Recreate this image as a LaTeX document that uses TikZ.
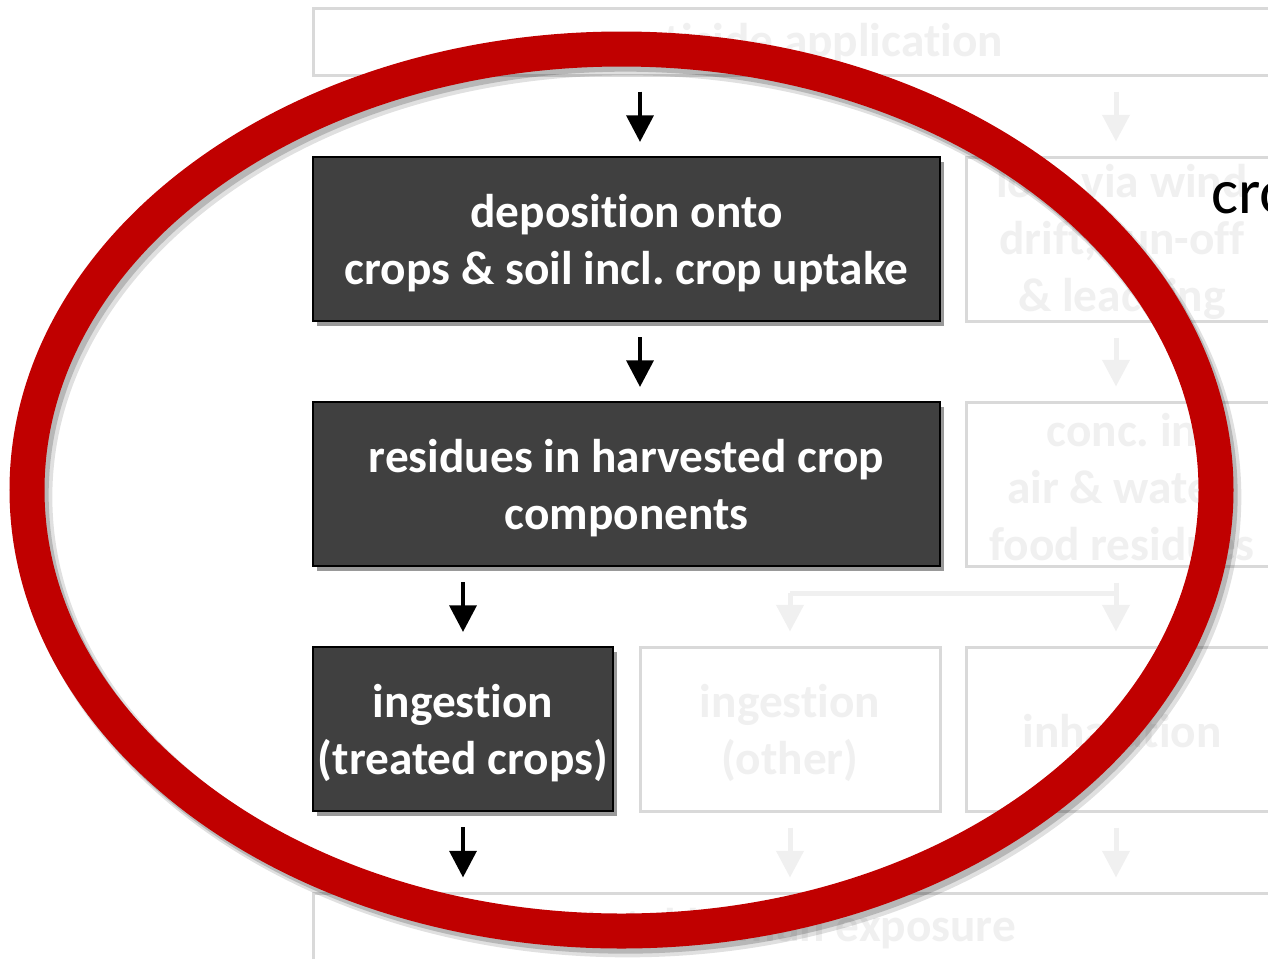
\documentclass[tikz,border=0pt]{standalone}
\usepackage{fontspec}
\setmainfont{Carlito}[Ligatures={NoCommon}]
\usetikzlibrary{arrows.meta,shadows}
\definecolor{darkfill}{HTML}{404040}
\definecolor{fadetext}{HTML}{F0F0F0}
\definecolor{fadeline}{HTML}{D9D9D9}
\definecolor{ringred}{HTML}{C00000}
\frenchspacing
\begin{document}
\begin{tikzpicture}[x=0.75pt,y=-0.75pt,
  boxfont/.style={font=\fontsize{35.5}{42.75}\selectfont\bfseries\frenchspacing, align=center, inner sep=0pt},
  darkbox/.style={draw=black, line width=1.5pt, fill=darkfill, inner sep=0pt,
    drop shadow={shadow xshift=3pt, shadow yshift=-3.5pt, opacity=0.4, fill=black}},
  fadebox/.style={draw=fadeline, line width=2.25pt, fill=white, inner sep=0pt},
  whitetext/.style={boxfont, text=white},
  fadetxt/.style={boxfont, text=fadetext},
  wide/.style={minimum width=470.25pt, minimum height=123pt},
  narrow/.style={minimum width=225pt, minimum height=123pt},
  rightcol/.style={minimum width=234pt, minimum height=123pt},
  bar/.style={minimum width=730.5pt, minimum height=50.25pt},
  arr/.style={line width=3.4pt, -{Triangle[width=20pt,length=20pt]}, shorten <=11.25pt, shorten >=10.5pt},
  fadearr/.style={arr, draw=fadetext, line width=3.75pt},
]
\useasboundingbox (0,0) rectangle (1268,958);
\clip (0,0) rectangle (1268,958);
\fill[white] (0,0) rectangle (1268,958);

% column positions
\coordinate (xL) at (640,0);
\coordinate (xM) at (463,0);
\coordinate (xO) at (790,0);
\coordinate (xR) at (1116,0);

% faded parts
\node[fadebox, bar] (app) at (800,41.5) {};
\node[fadetxt] (appT) at ([yshift=-1.5pt]app.center) {pesticide application};
\node[fadebox, rightcol] (loss) at (1122,239) {};
\node[fadetxt] (lossT) at ([yshift=-2pt]loss.center) {loss via wind\\drift, run-off\\\& leaching};
\node[fadebox, rightcol] (conc) at (1122,484) {};
\node[fadetxt] (concT) at ([yshift=-2pt]conc.center) {conc. in\\air \& water,\\food residues};
\node[fadebox, narrow] (oth) at (790,729) {};
\node[fadetxt] (othT) at ([yshift=-3pt]oth.center) {ingestion\\(other)};
\node[fadebox, rightcol] (inh) at (1122,729) {};
\node[fadetxt] (inhT) at ([yshift=-1.5pt]inh.center) {inhalation};
\node[fadebox, bar] (expo) at (800,926.5) {};
\node[fadetxt] (expoT) at ([yshift=-1.5pt]expo.center) {total human exposure};

\coordinate (bR) at (1116,593);
\coordinate (bO) at (790,593);
\draw[fadearr] (app.south -| xR) -- (loss.north -| xR);
\draw[fadearr] (loss.south -| xR) -- (conc.north -| xR);
\draw[fadearr] (conc.south -| xR) -- (inh.north -| xR);
\draw[draw=fadetext, line width=3.75pt] (bR) -- (bO);
\draw[fadearr, shorten <=0pt] (bO) -- (oth.north -| xO);
\draw[fadearr] (oth.south -| xO) -- (expo.north -| xO);
\draw[fadearr] (inh.south -| xR) -- (expo.north -| xR);

% highlighted path
\node[darkbox, wide] (dep) at (626.5,239) {};
\node[whitetext] (depT) at ([yshift=-3pt]dep.center) {deposition onto\\crops \& soil incl. crop uptake};
\node[darkbox, wide] (res) at (626.5,484) {};
\node[whitetext] (resT) at ([yshift=-3pt]res.center) {residues in harvested crop\\components};
\node[darkbox, narrow] (ing) at (463,729) {};
\node[whitetext] (ingT) at ([yshift=-3pt]ing.center) {ingestion\\(treated crops)};

\draw[arr] (app.south -| xL) -- (dep.north -| xL);
\draw[arr] (dep.south -| xL) -- (res.north -| xL);
\draw[arr] (res.south -| xM) -- (ing.north -| xM);
\draw[arr] (ing.south -| xM) -- (expo.north -| xM);

\node[anchor=base west, inner sep=0pt, font=\fontsize{48}{58}\selectfont] (cro) at (1211,213) {cro};

% red ring with soft shadow
\draw[black, opacity=0.12, line width=29pt] (627.5,497) ellipse [x radius=594.5, y radius=441];
\draw[black, opacity=0.18, line width=26.5pt] (625.5,495) ellipse [x radius=594.5, y radius=441];
\draw[ringred, line width=26.25pt] (621.5,490) ellipse [x radius=594.5, y radius=441];
\end{tikzpicture}
\end{document}
